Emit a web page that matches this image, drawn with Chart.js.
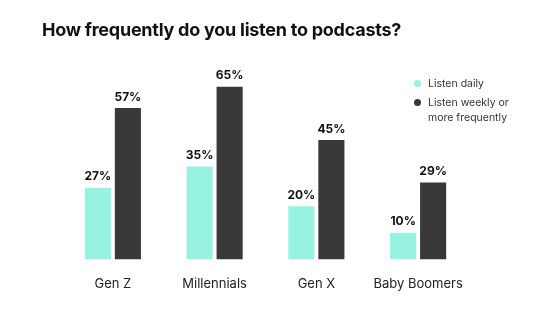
<!DOCTYPE html>
<html>
<head>
<meta charset="utf-8">
<script src="https://cdn.jsdelivr.net/npm/chart.js@4"></script>
<style>
  body { margin: 0; background: #fff; }
  #wrap { position: relative; width: 543px; height: 328px; }
  #title {
    position: absolute; left: 42px; top: 19px;
    font-family: Inter, "Noto Sans", sans-serif; font-weight: 700; font-size: 18px;
    color: #111; letter-spacing: -0.25px;
  }
  #legend {
    position: absolute; left: 412px; top: 76px;
    font-family: Inter, "Noto Sans", sans-serif; font-size: 10.5px; color: #333; line-height: 15px;
  }
  .item { position: relative; padding-left: 16px; margin-bottom: 4px; }
  .dot { position: absolute; left: 2px; top: 4px; width: 7px; height: 7px; border-radius: 50%; }
</style>
</head>
<body>
<div id="wrap">
  <canvas id="chart1" width="543" height="328"></canvas>
  <div id="title">How frequently do you listen to podcasts?</div>
  <div id="legend"></div>
</div>
<script>
const categories = ['Gen Z', 'Millennials', 'Gen X', 'Baby Boomers'];
const seriesNames = ['Listen daily', 'Listen weekly or more frequently'];
const legendLines = [['Listen daily'], ['Listen weekly or', 'more frequently']];
const dailyValues = [27, 35, 20, 10];
const weeklyValues = [57, 65, 45, 29];
const colors = ['#97F2E1', '#383838'];

// legend in html
function makeLegend() {
    const legend = document.getElementById('legend');
    legendLines.forEach((lines, i) => {
        const div = document.createElement('div');
        div.className = 'item';
        div.innerHTML = `<span class="dot" style="background:${colors[i]}"></span>` + lines.join('<br>');
        legend.appendChild(div);
    });
}

// draws the % labels above each bar
const valueLabels = {
    id: 'valueLabels',
    afterDatasetsDraw(chart) {
        const ctx = chart.ctx;
        ctx.save();
        ctx.font = 'bold 12px Inter, "Noto Sans", sans-serif';
        ctx.fillStyle = '#111';
        ctx.textAlign = 'center';
        ctx.textBaseline = 'bottom';
        chart.data.datasets.forEach((ds, i) => {
            chart.getDatasetMeta(i).data.forEach((bar, j) => {
                ctx.fillText(ds.data[j] + '%', bar.x, bar.y - 5);
            });
        });
        ctx.restore();
    }
};

function appendChart() {
    const data = {
        labels: categories,
        datasets: [
            { label: seriesNames[0], data: dailyValues, backgroundColor: colors[0] },
            { label: seriesNames[1], data: weeklyValues, backgroundColor: colors[1] }
        ]
    };

    const ctx = document.getElementById('chart1').getContext('2d');
    new Chart(ctx, {
        type: 'bar',
        data: data,
        options: {
            responsive: false,
            animation: false,
            categoryPercentage: 0.59,
            barPercentage: 0.87,
            layout: { padding: { left: 62, right: 74, top: 47, bottom: 27 } },
            plugins: { legend: { display: false }, tooltip: { enabled: false } },
            scales: {
                x: {
                    grid: { display: false },
                    border: { display: false },
                    ticks: {
                        padding: 9,
                        color: '#222',
                        font: { family: 'Inter, "Noto Sans", sans-serif', size: 13 }
                    }
                },
                y: { display: false, min: 0, max: 80 }
            }
        },
        plugins: [valueLabels]
    });
}

makeLegend();
appendChart();
</script>
</body>
</html>
